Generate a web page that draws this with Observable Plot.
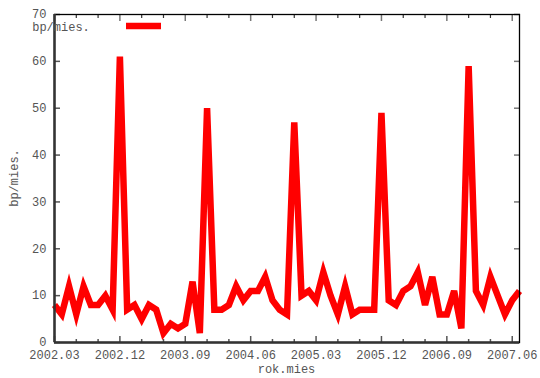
<!DOCTYPE html>
<html>
<head>
<meta charset="utf-8">
<script src="https://cdn.jsdelivr.net/npm/d3@7"></script>
<script src="https://cdn.jsdelivr.net/npm/@observablehq/plot@0.6"></script>
<style>
  html, body { margin: 0; padding: 0; background: #fff; }
  #chart { width: 540px; height: 378px; }
</style>
</head>
<body>
<div id="chart"></div>
<script>
// Monthly values, starting 2002.03 (one per month)
const startLabel = "2002.03";
const values = [8, 6, 12, 6, 12, 8, 8, 10, 7, 61,
                7, 8, 5, 8, 7, 2, 4, 3, 4, 13,
                2, 50, 7, 7, 8, 12, 9, 11, 11, 14,
                9, 7, 6, 47, 10, 11, 9, 15, 10, 6,
                12, 6, 7, 7, 7, 49, 9, 8, 11, 12,
                15, 8, 14, 6, 6, 11, 3, 59, 11, 8,
                14, 10, 6, 9, 11];
const tickLabels = ["2002.03", "2002.12", "2003.09", "2004.06", "2005.03", "2005.12", "2006.09", "2007.06"];
const tickMonths = [0, 9, 18, 27, 36, 45, 54, 63];        // month index of each labelled tick
const minorMonths = [3, 6, 12, 15, 21, 24, 30, 33, 39, 42, 48, 51, 57, 60];
const yTicks = [0, 10, 20, 30, 40, 50, 60, 70];
const seriesName = "bp/mies.";
const xTitle = "rok.mies";
const yTitle = "bp/mies.";

const data = values.map((v, i) => ({i, v}));
const fmt = d => tickLabels[tickMonths.indexOf(d)] ?? "";

const W = 540, H = 378;
const mL = 54, mR = 21, mT = 14, mB = 36;
const font = "'Liberation Mono', 'DejaVu Sans Mono', monospace";
const grey = "#555";

const chart = Plot.plot({
  width: W, height: H,
  marginLeft: mL, marginRight: mR, marginTop: mT, marginBottom: mB,
  style: {fontFamily: font, fontSize: "12px", color: grey, background: "#fff"},
  x: {domain: [0, values.length - 1]},
  y: {domain: [0, 70]},
  marks: [
    // inward major/minor ticks bottom & top
    Plot.axisX({anchor: "bottom", ticks: tickMonths, tickSize: -6, tickFormat: () => "", label: null, stroke: "#555", strokeWidth: 1.5}),
    Plot.axisX({anchor: "bottom", ticks: minorMonths, tickSize: -3, tickFormat: () => "", label: null, stroke: "#555", strokeWidth: 1.5}),
    Plot.axisX({anchor: "top", ticks: tickMonths, tickSize: -6, tickFormat: () => "", label: null, stroke: "#777", strokeWidth: 1.5}),
    Plot.axisX({anchor: "top", ticks: minorMonths, tickSize: -3, tickFormat: () => "", label: null, stroke: "#333", strokeWidth: 1.2}),
    Plot.axisX({anchor: "bottom", ticks: tickMonths, tickSize: 0, tickPadding: 8, tickFormat: fmt, label: null, fill: grey, fontSize: 12}),
    Plot.axisY({anchor: "left", ticks: yTicks, tickSize: -6, tickFormat: () => "", label: null, stroke: "#555", strokeWidth: 1.5}),
    Plot.axisY({anchor: "right", ticks: yTicks, tickSize: -6, tickFormat: () => "", label: null, stroke: "#777", strokeWidth: 1.5}),
    Plot.axisY({anchor: "left", ticks: yTicks, tickSize: 0, tickPadding: 8, label: null, fill: grey, fontSize: 12}),
    Plot.line(data, {x: "i", y: "v", stroke: "#ff0000", strokeWidth: 6.5, strokeLinejoin: "miter", strokeMiterlimit: 4, strokeLinecap: "butt"}),
    Plot.frame({stroke: "#000", strokeWidth: 1.3}),
    Plot.ruleX([0], {stroke: "#333", strokeWidth: 2.5}),
    Plot.ruleY([0], {stroke: "#333", strokeWidth: 2.5})
  ]
});

const svg = d3.select(chart);
// axis titles
svg.append("text").attr("x", (mL + W - mR) / 2).attr("y", H - 5)
  .attr("text-anchor", "middle").attr("fill", grey)
  .style("font-family", font).style("font-size", "12px").text(xTitle);
svg.append("text").attr("transform", `translate(18,${(mT + H - mB) / 2}) rotate(-90)`)
  .attr("text-anchor", "middle").attr("fill", grey)
  .style("font-family", font).style("font-size", "12px").text(yTitle);
// legend
svg.append("text").attr("x", mL + 7).attr("y", mT + 17)
  .attr("fill", grey).style("font-family", font).style("font-size", "12px").text(seriesName);
svg.append("line").attr("x1", mL + 72).attr("x2", mL + 107).attr("y1", mT + 12).attr("y2", mT + 12)
  .attr("stroke", "#ff0000").attr("stroke-width", 6.5);

document.getElementById("chart").appendChild(chart);
</script>
</body>
</html>
